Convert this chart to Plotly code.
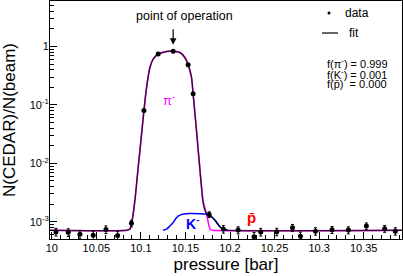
import plotly.graph_objects as go
import math

# ---- data points ----
press = [10.0047, 10.0185, 10.0316, 10.0465, 10.0608, 10.0739, 10.0894, 10.1034,
         10.1194, 10.1362, 10.1530, 10.1586, 10.1766, 10.1925, 10.2091, 10.2270,
         10.2345, 10.2525, 10.2701, 10.2790, 10.2959, 10.3145, 10.3328, 10.3530,
         10.3735, 10.3855]
ratio = [6.7e-4, 6.6e-4, 6.1e-4, 5.9e-4, 7.4e-4, 5.8e-4, 9.4e-4, 0.080,
         0.742, 0.835, 0.488, 0.155, 1.33e-3, 7.5e-4, 7.2e-4, 5.55e-4,
         6.7e-4, 6.75e-4, 7.9e-4, 5.65e-4, 6.9e-4, 7.3e-4, 7.2e-4, 8.45e-4,
         7.6e-4, 6.9e-4]
ratio_err = [1.0e-4, 1.0e-4, 1.0e-4, 1.0e-4, 1.1e-4, 1.0e-4, 1.2e-4, 0.002,
             0.01, 0.01, 0.008, 0.004, 1.5e-4, 1.1e-4, 1.0e-4, 1.0e-4,
             1.0e-4, 1.0e-4, 1.1e-4, 1.0e-4, 1.0e-4, 1.0e-4, 1.0e-4, 1.1e-4,
             1.0e-4, 1.0e-4]

# ---- fit curves ----
fit_x = [9.998, 10.0843, 10.0877, 10.0899, 10.0933, 10.0970, 10.1008, 10.1034,
         10.1064, 10.1101, 10.1138, 10.1194, 10.1288, 10.1362, 10.1437, 10.1493,
         10.1530, 10.1568, 10.1586, 10.1617, 10.1650, 10.1680, 10.1706, 10.1737,
         10.1766, 10.1830, 10.1886, 10.1930, 10.1975, 10.3937]
fit_y = [7.15e-4, 7.15e-4, 7.5e-4, 9.9e-4, 2.34e-3, 8.66e-3, 0.0321, 0.080,
         0.20, 0.4385, 0.61, 0.742, 0.822, 0.835, 0.79, 0.65,
         0.488, 0.296, 0.1545, 0.0476, 0.0128, 3.95e-3, 1.80e-3, 1.39e-3,
         1.33e-3, 1.07e-3, 8.22e-4, 7.37e-4, 7.15e-4, 7.15e-4]

pi_x = [9.998, 10.0843, 10.0877, 10.0899, 10.0933, 10.0970, 10.1008, 10.1034,
        10.1064, 10.1101, 10.1138, 10.1194, 10.1288, 10.1362, 10.1437, 10.1493,
        10.1530, 10.1568, 10.1586, 10.1617, 10.1650, 10.1680, 10.1695, 10.1725,
        10.1746, 10.1762, 10.1779, 10.1807, 10.3937]
pi_y = [7.15e-4, 7.15e-4, 7.5e-4, 9.9e-4, 2.34e-3, 8.66e-3, 0.0321, 0.080,
        0.20, 0.4385, 0.61, 0.742, 0.822, 0.835, 0.79, 0.65,
        0.488, 0.296, 0.1545, 0.0476, 0.0128, 3.95e-3, 2.34e-3, 1.58e-3,
        1.16e-3, 8.79e-4, 7.37e-4, 7.15e-4, 7.15e-4]

k_x = [10.1247, 10.1288, 10.1325, 10.1362, 10.1392, 10.1426, 10.1471, 10.1549,
       10.1661, 10.1737, 10.1766, 10.1830, 10.1886, 10.1930, 10.1975]
k_y = [7.15e-4, 7.5e-4, 8.45e-4, 9.7e-4, 1.135e-3, 1.276e-3, 1.35e-3, 1.38e-3,
       1.37e-3, 1.35e-3, 1.31e-3, 1.07e-3, 8.22e-4, 7.37e-4, 7.15e-4]

x_tickvals = [10.0, 10.05, 10.1, 10.15, 10.2, 10.25, 10.3, 10.35]
x_ticktext = ["10", "10.05", "10.1", "10.15", "10.2", "10.25", "10.3", "10.35"]
y_tickvals = [1e-3, 1e-2, 1e-1, 1]
y_ticktext = ["10<sup>-3</sup>", "10<sup>-2</sup>", "10<sup>-1</sup>", "1"]

fractions = ["0.999", "0.001", "0.000"]
op_point = 10.1362

FONT = "Liberation Sans, Arial, Helvetica, sans-serif"
PBAR = "p\u0304"

fig = go.Figure()
fig.add_trace(go.Scatter(x=pi_x, y=pi_y, mode="lines", line=dict(color="#ff00ff", width=1.5, shape="spline", smoothing=0.6), showlegend=False, hoverinfo="skip"))
fig.add_trace(go.Scatter(x=k_x, y=k_y, mode="lines", line=dict(color="#0000ff", width=1.5, shape="spline", smoothing=0.6), showlegend=False, hoverinfo="skip"))
fig.add_trace(go.Scatter(x=fit_x, y=fit_y, mode="lines", line=dict(color="rgba(0,0,0,0.7)", width=1.5, shape="spline", smoothing=0.6), showlegend=False, hoverinfo="skip"))
fig.add_trace(go.Scatter(x=press, y=ratio, mode="markers",
                         marker=dict(color="black", size=5),
                         error_y=dict(type="data", array=ratio_err, color="black", thickness=1, width=1.5),
                         showlegend=False, hoverinfo="skip"))

# plot area in pixels: left 50, right 402, top 1, bottom 239
def px(x):
    return (x - 50) / 352.0
def py(y):
    return (239 - y) / 238.0

ann = []
ann.append(dict(x=px(184), y=py(15.5), xref="paper", yref="paper", text="point of operation", showarrow=False, font=dict(size=12.5, color="black", family=FONT), xanchor="center", yanchor="middle"))
ann.append(dict(x=op_point, y=math.log10(1.07), xref="x", yref="y", text="", showarrow=True, ax=0, ay=-17, arrowhead=2, arrowsize=1.1, arrowwidth=1.2, arrowcolor="black"))
ann.append(dict(x=px(343), y=py(13), xref="paper", yref="paper", text="data", showarrow=False, font=dict(size=12, color="black", family=FONT), xanchor="left", yanchor="middle"))
ann.append(dict(x=px(347), y=py(33), xref="paper", yref="paper", text="fit", showarrow=False, font=dict(size=12, color="black", family=FONT), xanchor="left", yanchor="middle"))
labels = ["f(\u03c0<sup>-</sup>) = ", "f(K<sup>-</sup>) = ", "f(" + PBAR + ")\u00a0 = "]
for i, (lab, fr) in enumerate(zip(labels, fractions)):
    ann.append(dict(x=px(325), y=py(63.3 + 10.2 * i), xref="paper", yref="paper", text=lab + fr, showarrow=False, font=dict(size=11, color="black", family=FONT), xanchor="left", yanchor="middle"))
ann.append(dict(x=px(169), y=py(100), xref="paper", yref="paper", text="\u03c0<sup>-</sup>", showarrow=False, font=dict(size=13, color="#ff00ff", family=FONT), xanchor="center", yanchor="middle"))
ann.append(dict(x=px(192), y=py(223), xref="paper", yref="paper", text="<b>K<sup>-</sup></b>", showarrow=False, font=dict(size=14, color="#0000ff", family=FONT), xanchor="center", yanchor="middle"))
ann.append(dict(x=px(251), y=py(217), xref="paper", yref="paper", text="<b>" + PBAR + "</b>", showarrow=False, font=dict(size=15, color="#ff0000", family=FONT), xanchor="center", yanchor="middle"))

shapes = [
    dict(type="circle", xref="paper", yref="paper", x0=px(327.5), x1=px(330.5), y0=py(14.5), y1=py(11.5), fillcolor="black", line=dict(color="black", width=0)),
    dict(type="line", xref="paper", yref="paper", x0=px(322), x1=px(338), y0=py(33), y1=py(33), line=dict(color="black", width=1.2)),
]

fig.update_layout(
    width=403, height=276,
    margin=dict(l=50, r=1, t=1, b=37),
    paper_bgcolor="white", plot_bgcolor="white",
    font=dict(family=FONT, color="black"),
    annotations=ann, shapes=shapes,
    showlegend=False,
)
fig.update_xaxes(
    range=[9.998, 10.393], tickmode="array", tickvals=x_tickvals, ticktext=x_ticktext,
    ticks="inside", ticklen=7, tickwidth=1, automargin=False, ticklabelstandoff=-1,
    tickcolor="black", showgrid=False, zeroline=False, showline=True, linecolor="black",
    linewidth=1, mirror=True, tickfont=dict(size=11, family=FONT),
    minor=dict(dtick=0.01, tick0=10, ticks="inside", ticklen=4, tickcolor="black", showgrid=False),
    title=dict(text="pressure [bar]", font=dict(size=17, family=FONT), standoff=4),
)
fig.update_yaxes(
    type="log", range=[-3.295, 0.78], automargin=False, ticklabelstandoff=-2,
    tickmode="array", tickvals=y_tickvals, ticktext=y_ticktext,
    ticks="inside", ticklen=7, tickwidth=1, tickcolor="black", showgrid=False, zeroline=False,
    showline=True, linecolor="black", linewidth=1, mirror=True,
    tickfont=dict(size=11, family=FONT),
    minor=dict(dtick="D1", ticks="inside", ticklen=4, tickcolor="black", showgrid=False),
    title=dict(text="N(CEDAR)/N(beam)", font=dict(size=17, family=FONT), standoff=10),
)

fig.write_html("out.html", config={"displayModeBar": False},
               post_script="document.body.style.margin='0px';document.body.style.padding='0px';")
